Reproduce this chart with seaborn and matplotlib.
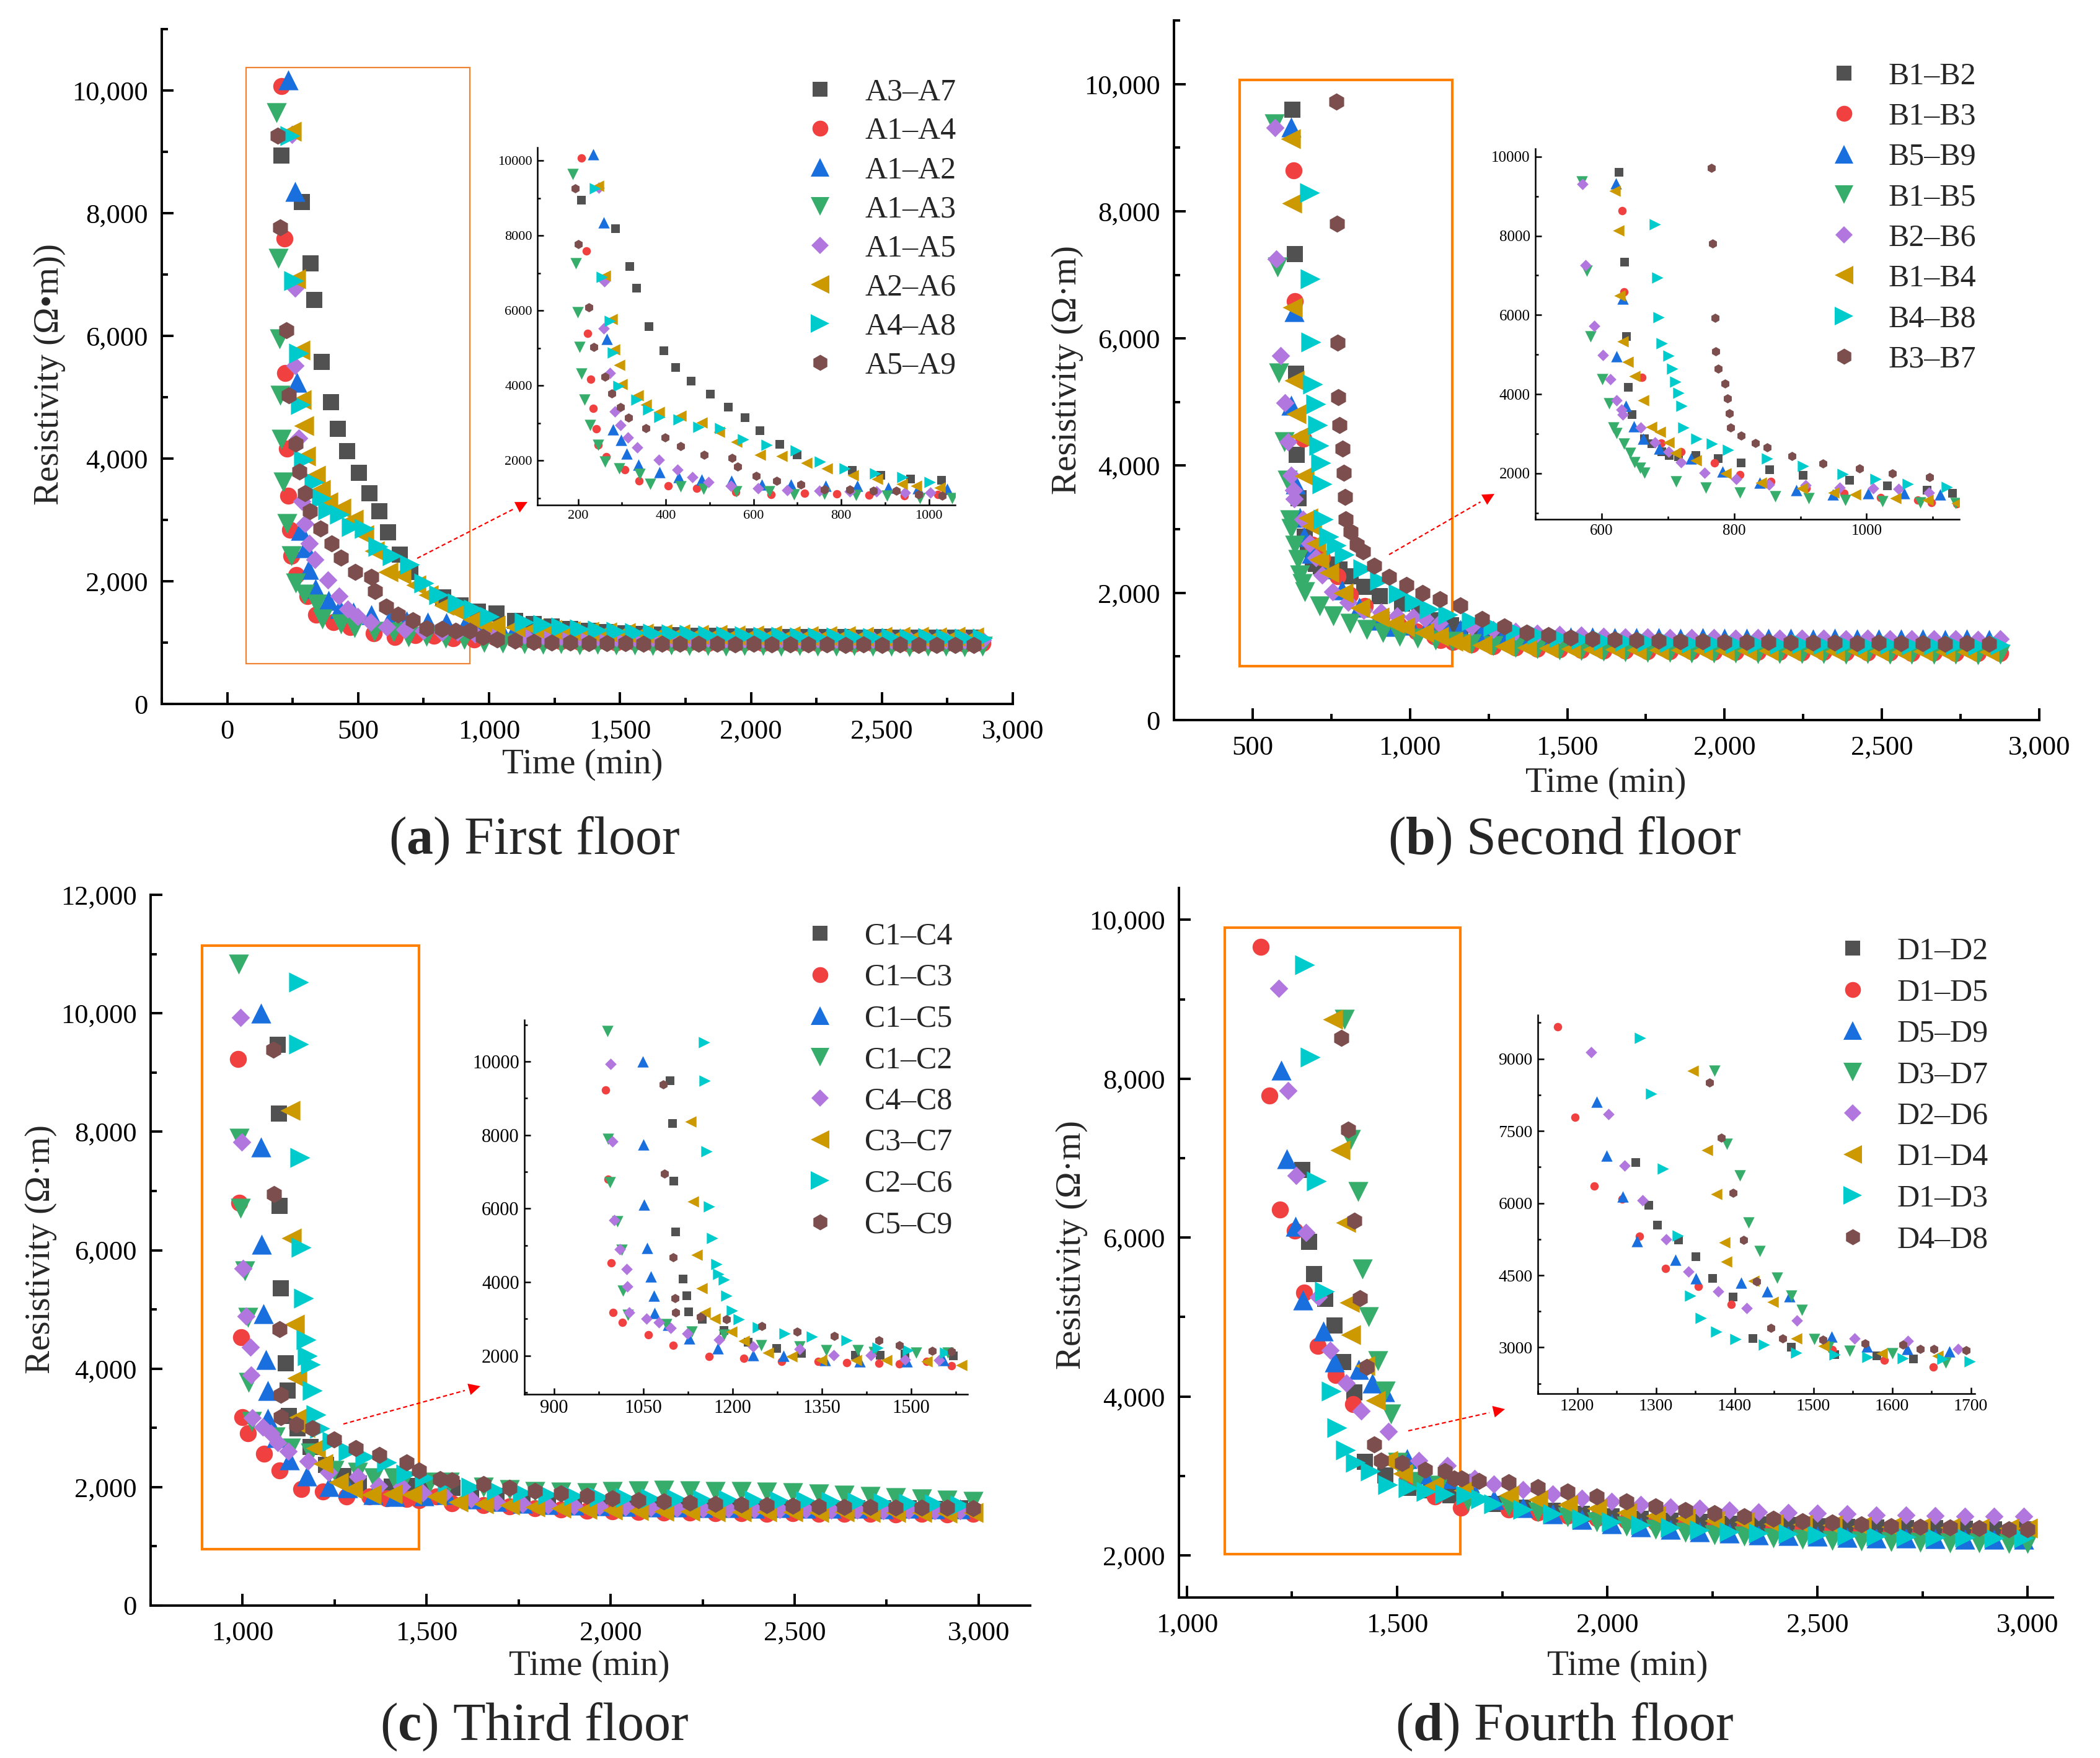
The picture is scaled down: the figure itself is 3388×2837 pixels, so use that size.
import numpy as np
import pandas as pd
import matplotlib
matplotlib.use("Agg")
import matplotlib.pyplot as plt
import seaborn as sns
from matplotlib.ticker import MultipleLocator, FuncFormatter
from matplotlib.lines import Line2D
from matplotlib.patches import Rectangle, FancyArrowPatch

# ---------------- DATA ----------------
# Panel (a) First floor
A_NAMES = ["A3–A7", "A1–A4", "A1–A2", "A1–A3", "A1–A5", "A2–A6", "A4–A8", "A5–A9"]
A_HEAD_T = [
    [207, 285, 317, 333, 361, 396, 423, 457, 502, 542, 581, 615, 660, 699, 825, 891, 958, 1029],
    [207, 218, 221, 229, 234, 241, 245, 264, 306, 339, 405, 470, 560, 640, 717, 790, 863, 944, 1021],
    [234, 258, 266, 280, 298, 310, 337, 386, 429, 481, 550, 619, 686, 765, 837, 907, 975, 1042],
    [188, 195, 199, 203, 207, 215, 227, 245, 261, 294, 341, 364, 433, 486, 561, 636, 692, 761, 834, 905, 980, 1053],
    [247, 259, 258, 272, 284, 296, 314, 335, 384, 426, 461, 497, 548, 610, 677, 750, 820, 880, 946, 1004],
    [245, 261, 277, 283, 293, 300, 336, 355, 384, 433, 481, 521, 561, 615, 664, 720, 767, 827, 882, 939, 971, 1024],
    [239, 254, 272, 280, 292, 333, 360, 385, 429, 475, 524, 577, 630, 696, 752, 809, 878, 940, 1002],
    [193, 201, 225, 236, 261, 276, 296, 315, 355, 398, 434, 488, 551, 564, 606, 653, 708, 761, 820, 873, 926, 977, 1031],
]
A_HEAD_R = [
    [8940, 8180, 7180, 6590, 5580, 4920, 4480, 4120, 3770, 3430, 3140, 2800, 2430, 2150, 1740, 1610, 1510, 1470],
    [10070, 7590, 5390, 4160, 3390, 2840, 2410, 2100, 1760, 1450, 1330, 1250, 1150, 1090, 1120, 1110, 1070, 1050, 1090],
    [10170, 8350, 5240, 2830, 2550, 2190, 1880, 1690, 1560, 1490, 1450, 1360, 1350, 1330, 1320, 1280, 1260, 1240],
    [9640, 7260, 5950, 5030, 4310, 3620, 2940, 2410, 1970, 1790, 1630, 1380, 1300, 1240, 1180, 1170, 1090, 1100, 1070, 1050, 1000, 990],
    [9280, 6780, 5520, 4330, 3300, 2940, 2620, 2350, 2020, 1760, 1550, 1420, 1330, 1250, 1210, 1190, 1170, 1170, 1140, 1140],
    [9330, 6930, 5770, 4960, 4540, 4040, 3730, 3490, 3290, 3190, 3010, 2760, 2500, 2150, 2110, 1940, 1780, 1610, 1510, 1370, 1320, 1280],
    [9260, 6900, 5720, 4880, 3980, 3620, 3350, 3160, 3090, 2890, 2860, 2570, 2410, 2270, 1970, 1780, 1650, 1550, 1420],
    [9260, 7770, 6090, 5030, 4240, 3790, 3430, 3140, 2860, 2620, 2380, 2150, 2070, 1840, 1590, 1450, 1360, 1230, 1220, 1190, 1190, 1090, 1050],
]
A_T1 = [1100, 1170, 1240, 1310, 1380, 1450, 1520, 1590, 1660, 1730, 1800, 1870, 1940, 2010, 2080, 2150, 2220, 2290, 2360, 2430, 2500, 2570, 2640, 2710, 2780, 2850]
A_T2 = [1135, 1205, 1275, 1345, 1415, 1485, 1555, 1625, 1695, 1765, 1835, 1905, 1975, 2045, 2115, 2185, 2255, 2325, 2395, 2465, 2535, 2605, 2675, 2745, 2815, 2885]
A_WHICH = [1, 2, 1, 2, 2, 1, 2, 1]
A_TAIL_R = [
    [1350, 1300, 1260, 1220, 1190, 1170, 1150, 1140, 1130, 1120, 1115, 1110, 1105, 1100, 1100, 1095, 1090, 1095, 1090, 1085, 1090, 1080, 1085, 1080, 1085, 1080],
    [1040, 1030, 1020, 1010, 1020, 1000, 1010, 1000, 995, 1005, 990, 1000, 995, 990, 1000, 985, 990, 995, 980, 990, 985, 980, 990, 985, 980, 985],
    [1220, 1200, 1180, 1170, 1150, 1140, 1130, 1120, 1120, 1110, 1100, 1100, 1095, 1090, 1090, 1085, 1080, 1085, 1080, 1075, 1080, 1070, 1075, 1070, 1065, 1070],
    [980, 970, 975, 960, 965, 955, 960, 950, 955, 945, 950, 940, 950, 945, 940, 945, 935, 940, 945, 935, 940, 930, 935, 940, 930, 935],
    [1120, 1110, 1100, 1095, 1090, 1085, 1080, 1080, 1075, 1070, 1070, 1065, 1060, 1065, 1060, 1055, 1060, 1050, 1055, 1050, 1045, 1050, 1045, 1040, 1045, 1040],
    [1250, 1230, 1210, 1190, 1180, 1170, 1160, 1150, 1145, 1140, 1135, 1130, 1125, 1120, 1120, 1115, 1110, 1115, 1110, 1105, 1100, 1105, 1100, 1095, 1100, 1095],
    [1330, 1290, 1250, 1220, 1200, 1180, 1165, 1150, 1140, 1130, 1120, 1115, 1110, 1105, 1100, 1095, 1090, 1090, 1085, 1080, 1085, 1075, 1080, 1070, 1075, 1070],
    [1030, 1010, 1000, 995, 990, 985, 985, 980, 980, 975, 980, 975, 970, 975, 970, 965, 970, 965, 960, 965, 960, 965, 955, 960, 955, 960],
]

# Panel (b) Second floor
B_NAMES = ["B1–B2", "B1–B3", "B5–B9", "B1–B5", "B2–B6", "B1–B4", "B4–B8", "B3–B7"]
B_HEAD_T = [
    [626, 635, 638, 640, 646, 665, 676, 691, 702, 716, 742, 776, 811, 854, 904, 974, 1031, 1091, 1130],
    [631, 634, 661, 690, 720, 770, 809, 856, 909, 966, 1021, 1077, 1098, 1136],
    [622, 632, 623, 637, 649, 663, 687, 735, 783, 839, 894, 949, 1002, 1057, 1111],
    [570, 578, 583, 601, 611, 618, 623, 634, 643, 650, 658, 665, 712, 757, 809, 862, 913, 968, 1024, 1081, 1134],
    [571, 576, 589, 602, 613, 623, 630, 632, 659, 681, 701, 720, 755, 803, 853, 908, 959, 1010, 1048, 1094],
    [620, 625, 627, 632, 639, 650, 663, 675, 688, 701, 711, 742, 787, 841, 902, 950, 983, 1044, 1092, 1136],
    [681, 684, 686, 691, 701, 707, 711, 716, 721, 724, 743, 767, 791, 850, 904, 964, 1014, 1062, 1121],
    [766, 768, 771, 772, 776, 786, 790, 793, 795, 811, 832, 850, 887, 934, 989, 1039, 1095],
]
B_HEAD_R = [
    [9600, 7330, 5450, 4170, 3490, 2880, 2750, 2550, 2460, 2420, 2450, 2370, 2260, 2090, 1950, 1830, 1690, 1570, 1490],
    [8640, 6590, 4420, 2760, 2550, 2260, 1970, 1790, 1620, 1490, 1390, 1320, 1260, 1230],
    [9320, 6420, 4950, 3710, 3190, 2880, 2620, 2380, 2050, 1770, 1570, 1470, 1490, 1490, 1460],
    [9370, 7120, 5460, 4370, 3770, 3150, 3010, 2750, 2520, 2280, 2140, 2020, 1790, 1640, 1520, 1420, 1370, 1320, 1290, 1260, 1240],
    [9310, 7250, 5730, 4990, 4370, 3850, 3610, 3480, 3160, 2780, 2550, 2280, 2020, 1850, 1720, 1700, 1640, 1620, 1600, 1520],
    [9140, 8130, 6490, 5340, 4810, 4460, 3840, 3180, 3050, 2780, 2520, 2320, 2000, 1760, 1620, 1520, 1460, 1370, 1320, 1240],
    [8290, 6940, 5940, 5280, 4970, 4640, 4320, 4040, 3710, 3160, 2880, 2750, 2600, 2380, 2190, 1990, 1850, 1740, 1660],
    [9720, 7800, 5930, 5080, 4640, 4270, 3890, 3510, 3160, 2960, 2760, 2650, 2430, 2250, 2120, 2000, 1900],
]
B_T1 = [1160, 1230, 1300, 1370, 1440, 1510, 1580, 1650, 1720, 1790, 1860, 1930, 2000, 2070, 2140, 2210, 2280, 2350, 2420, 2490, 2560, 2630, 2700, 2770, 2840]
B_T2 = [1195, 1265, 1335, 1405, 1475, 1545, 1615, 1685, 1755, 1825, 1895, 1965, 2035, 2105, 2175, 2245, 2315, 2385, 2455, 2525, 2595, 2665, 2735, 2805, 2875]
B_WHICH = [1, 2, 1, 2, 2, 1, 2, 1]
B_TAIL_R = [
    [1420, 1360, 1310, 1280, 1260, 1240, 1230, 1220, 1215, 1210, 1200, 1195, 1190, 1190, 1185, 1180, 1180, 1175, 1170, 1175, 1170, 1165, 1170, 1165, 1160],
    [1190, 1160, 1140, 1120, 1110, 1100, 1095, 1090, 1085, 1080, 1080, 1075, 1070, 1075, 1070, 1065, 1070, 1060, 1065, 1060, 1055, 1060, 1055, 1050, 1055],
    [1420, 1380, 1350, 1330, 1320, 1310, 1305, 1300, 1300, 1295, 1290, 1295, 1290, 1285, 1290, 1285, 1280, 1285, 1280, 1275, 1280, 1275, 1270, 1275, 1270],
    [1200, 1170, 1140, 1120, 1100, 1090, 1080, 1070, 1065, 1060, 1055, 1050, 1050, 1045, 1040, 1045, 1040, 1035, 1040, 1035, 1030, 1035, 1030, 1025, 1030],
    [1470, 1420, 1390, 1360, 1340, 1330, 1320, 1310, 1305, 1300, 1300, 1295, 1290, 1295, 1290, 1285, 1290, 1280, 1285, 1280, 1275, 1280, 1275, 1270, 1275],
    [1210, 1180, 1160, 1140, 1130, 1120, 1115, 1110, 1105, 1100, 1100, 1095, 1090, 1095, 1090, 1085, 1090, 1080, 1085, 1080, 1075, 1080, 1075, 1070, 1075],
    [1560, 1470, 1400, 1340, 1300, 1270, 1250, 1235, 1225, 1215, 1210, 1205, 1200, 1195, 1190, 1195, 1185, 1190, 1180, 1185, 1175, 1180, 1175, 1170, 1175],
    [1800, 1590, 1470, 1370, 1330, 1300, 1280, 1265, 1255, 1245, 1240, 1235, 1230, 1225, 1225, 1220, 1215, 1220, 1210, 1215, 1205, 1210, 1200, 1205, 1200],
]

# Panel (c) Third floor
C_NAMES = ["C1–C4", "C1–C3", "C1–C5", "C1–C2", "C4–C8", "C3–C7", "C2–C6", "C5–C9"]
C_HEAD_T = [
    [1095, 1099, 1101, 1104, 1117, 1123, 1126, 1149, 1185, 1226, 1274, 1316, 1406, 1448, 1490, 1571],
    [987, 991, 996, 999, 1015, 1058, 1100, 1160, 1219, 1282, 1344, 1392, 1446, 1480, 1526, 1568],
    [1049, 1050, 1051, 1056, 1063, 1068, 1069, 1092, 1127, 1175, 1235, 1286, 1355, 1414, 1493, 1554],
    [990, 991, 994, 1006, 1014, 1016, 1024, 1089, 1131, 1185, 1248, 1313, 1357, 1411, 1438, 1509, 1562],
    [995, 998, 1001, 1010, 1022, 1023, 1026, 1055, 1076, 1096, 1124, 1177, 1234, 1313, 1370, 1432, 1490, 1547],
    [1129, 1133, 1140, 1148, 1153, 1170, 1198, 1219, 1260, 1299, 1349, 1407, 1459, 1526, 1585],
    [1152, 1153, 1156, 1160, 1166, 1173, 1176, 1185, 1190, 1199, 1210, 1243, 1288, 1333, 1392, 1444, 1495, 1557],
    [1083, 1086, 1100, 1103, 1104, 1146, 1190, 1249, 1308, 1371, 1446, 1480, 1536, 1568],
]
C_HEAD_R = [
    [9470, 8310, 6750, 5360, 4090, 3630, 3200, 2990, 2680, 2370, 2190, 2060, 2010, 2020, 2040, 1990],
    [9230, 6800, 4530, 3180, 2910, 2560, 2280, 1970, 1920, 1840, 1840, 1810, 1800, 1780, 1840, 1730],
    [10000, 7740, 6100, 4930, 4150, 3630, 3160, 2840, 2460, 2190, 2010, 1990, 1870, 1840, 1850, 1870],
    [10830, 7890, 6710, 5650, 4870, 3770, 3110, 2850, 2660, 2570, 2280, 2250, 2150, 2150, 2100, 2080, 2080],
    [9930, 7830, 5690, 4890, 4360, 3890, 3170, 3010, 2910, 2750, 2600, 2440, 2250, 2180, 2020, 2010, 1900, 1870],
    [8360, 6200, 4750, 3840, 3180, 3000, 2660, 2400, 2080, 1970, 1870, 1880, 1870, 1840, 1750],
    [10520, 9480, 7560, 6050, 5190, 4490, 4220, 4070, 3630, 3220, 2990, 2770, 2600, 2510, 2420, 2220, 2150, 2080],
    [9380, 6950, 4670, 3560, 3180, 3060, 2990, 2800, 2660, 2540, 2420, 2280, 2130, 2110],
]
C_T1 = [1620, 1690, 1760, 1830, 1900, 1970, 2040, 2110, 2180, 2250, 2320, 2390, 2460, 2530, 2600, 2670, 2740, 2810, 2880, 2950]
C_T2 = [1655, 1725, 1795, 1865, 1935, 2005, 2075, 2145, 2215, 2285, 2355, 2425, 2495, 2565, 2635, 2705, 2775, 2845, 2915, 2985]
C_WHICH = [1, 2, 1, 2, 1, 2, 1, 2]
C_TAIL_R = [
    [1900, 1850, 1800, 1760, 1730, 1700, 1690, 1680, 1670, 1665, 1660, 1655, 1650, 1650, 1645, 1640, 1645, 1640, 1635, 1640],
    [1700, 1670, 1640, 1620, 1600, 1590, 1580, 1570, 1565, 1560, 1555, 1550, 1555, 1550, 1545, 1550, 1540, 1545, 1540, 1545],
    [1800, 1760, 1730, 1710, 1690, 1680, 1670, 1665, 1660, 1655, 1650, 1645, 1650, 1640, 1645, 1640, 1635, 1640, 1630, 1635],
    [2000, 1960, 1930, 1910, 1900, 1920, 1940, 1950, 1940, 1930, 1920, 1910, 1900, 1880, 1860, 1840, 1820, 1800, 1780, 1760],
    [1800, 1750, 1720, 1700, 1680, 1670, 1660, 1650, 1640, 1635, 1630, 1625, 1620, 1620, 1615, 1610, 1605, 1610, 1600, 1605],
    [1720, 1690, 1660, 1640, 1620, 1610, 1600, 1595, 1590, 1585, 1580, 1580, 1575, 1570, 1575, 1570, 1565, 1570, 1560, 1565],
    [2000, 1950, 1900, 1870, 1850, 1830, 1820, 1810, 1800, 1790, 1785, 1780, 1770, 1765, 1760, 1750, 1740, 1730, 1720, 1700],
    [2050, 1990, 1940, 1890, 1850, 1810, 1780, 1760, 1740, 1720, 1705, 1690, 1680, 1670, 1665, 1660, 1655, 1650, 1650, 1645],
]

# Panel (d) Fourth floor
D_NAMES = ["D1–D2", "D1–D5", "D5–D9", "D3–D7", "D2–D6", "D1–D4", "D1–D3", "D4–D8"]
D_HEAD_T = [
    [1274, 1291, 1302, 1329, 1351, 1372, 1398, 1423, 1472, 1527, 1581, 1627],
    [1175, 1197, 1222, 1257, 1279, 1312, 1354, 1396, 1524, 1590, 1652],
    [1225, 1237, 1258, 1276, 1325, 1351, 1408, 1441, 1470, 1523, 1568, 1619, 1673],
    [1374, 1390, 1407, 1418, 1432, 1454, 1472, 1485, 1501, 1519, 1546, 1600, 1668],
    [1218, 1240, 1260, 1283, 1313, 1341, 1379, 1415, 1479, 1552, 1620, 1684],
    [1347, 1365, 1377, 1387, 1389, 1424, 1448, 1478, 1513, 1587, 1658],
    [1280, 1294, 1309, 1328, 1344, 1357, 1377, 1401, 1437, 1478, 1527, 1569, 1614, 1664, 1699],
    [1368, 1383, 1398, 1411, 1428, 1446, 1461, 1512, 1566, 1614, 1636, 1653, 1694],
]
D_HEAD_R = [
    [6850, 5950, 5540, 5230, 4890, 4430, 4050, 3180, 3010, 2850, 2820, 2760],
    [9660, 7790, 6350, 6090, 5310, 4640, 4270, 3900, 2950, 2740, 2600],
    [8110, 6990, 6140, 5210, 4820, 4430, 4340, 4170, 4060, 3220, 3020, 2970, 2910],
    [8750, 7230, 6580, 5600, 5000, 4450, 4070, 3780, 3170, 3010, 2930, 2880, 2690],
    [9140, 7850, 6780, 6060, 5250, 4580, 4170, 3820, 3560, 3190, 3130, 2970],
    [8750, 7100, 6190, 5180, 4780, 4390, 3950, 3190, 3030, 2880, 2820],
    [9430, 8270, 6710, 5320, 4070, 3610, 3330, 3170, 3060, 2890, 2850, 2800, 2770, 2760, 2710],
    [8510, 7360, 6210, 5240, 4370, 3400, 3190, 3160, 3080, 3060, 2970, 2970, 2940],
]
D_T1 = [1730, 1800, 1870, 1940, 2010, 2080, 2150, 2220, 2290, 2360, 2430, 2500, 2570, 2640, 2710, 2780, 2850, 2920, 2990]
D_T2 = [1765, 1835, 1905, 1975, 2045, 2115, 2185, 2255, 2325, 2395, 2465, 2535, 2605, 2675, 2745, 2815, 2885, 2955, 3000]
D_WHICH = [1, 2, 1, 2, 1, 2, 1, 2]
D_TAIL_R = [
    [2650, 2600, 2560, 2520, 2490, 2460, 2440, 2420, 2400, 2390, 2380, 2370, 2360, 2350, 2345, 2340, 2335, 2330, 2325],
    [2580, 2540, 2500, 2470, 2440, 2410, 2390, 2370, 2350, 2340, 2330, 2320, 2310, 2300, 2300, 2295, 2290, 2290, 2285],
    [2700, 2600, 2520, 2450, 2400, 2360, 2330, 2300, 2280, 2260, 2250, 2240, 2230, 2220, 2215, 2210, 2205, 2200, 2200],
    [2620, 2550, 2480, 2420, 2370, 2330, 2290, 2260, 2240, 2220, 2200, 2190, 2180, 2170, 2165, 2160, 2155, 2150, 2150],
    [2900, 2830, 2770, 2720, 2680, 2640, 2610, 2590, 2570, 2550, 2540, 2530, 2520, 2510, 2505, 2500, 2495, 2490, 2490],
    [2760, 2700, 2640, 2590, 2540, 2500, 2470, 2440, 2420, 2400, 2390, 2380, 2370, 2360, 2355, 2350, 2345, 2340, 2340],
    [2650, 2580, 2520, 2460, 2420, 2380, 2350, 2320, 2300, 2280, 2270, 2260, 2250, 2240, 2235, 2230, 2225, 2220, 2220],
    [2920, 2860, 2800, 2740, 2680, 2620, 2570, 2530, 2490, 2460, 2430, 2410, 2390, 2370, 2360, 2350, 2340, 2330, 2330],
]

CAPTION_LETTERS = ["a", "b", "c", "d"]
CAPTION_TEXTS = ["First floor", "Second floor", "Third floor", "Fourth floor"]

# ---------------- STYLE ----------------
COLORS = ["#515151", "#F14040", "#1A6FDF", "#37AD6B", "#B177DE", "#CC9900", "#00CBCC", "#7D4E4E"]
MARKERS = ["s", "o", "^", "v", "D", "<", ">", "h"]
MAIN_S = [340, 390, 540, 540, 230, 540, 540, 400]
INSET_S = [88, 95, 175, 175, 90, 175, 175, 115]
LEG_S = [300, 340, 470, 470, 200, 470, 470, 350]

sns.set_theme(style="ticks")
plt.rcParams['font.family'] = ['Liberation Serif', 'DejaVu Serif']
plt.rcParams['mathtext.fontset'] = 'custom'
plt.rcParams['mathtext.rm'] = 'Liberation Serif'
plt.rcParams['mathtext.bf'] = 'Liberation Serif:bold'
plt.rcParams['axes.unicode_minus'] = False

W, H = 3388, 2837
fig = plt.figure(figsize=(W / 100, H / 100), dpi=100)
fig.patch.set_facecolor("white")


def frame(l, r, t, b):
    return [l / W, 1 - b / H, (r - l) / W, (b - t) / H]


def fxy(x, y):
    return (x / W, 1 - y / H)


comma_fmt = FuncFormatter(lambda v, p: f"{int(round(v)):,}")
plain_fmt = FuncFormatter(lambda v, p: f"{int(round(v))}")


def style_axes(ax, xlim, ylim, xmaj, ymaj, fmt, fs, lw, L, padx, pady):
    ax.set_xlim(*xlim)
    ax.set_ylim(*ylim)
    ax.xaxis.set_major_locator(MultipleLocator(xmaj))
    ax.xaxis.set_minor_locator(MultipleLocator(xmaj / 2))
    ax.yaxis.set_major_locator(MultipleLocator(ymaj))
    ax.yaxis.set_minor_locator(MultipleLocator(ymaj / 2))
    ax.xaxis.set_major_formatter(fmt)
    ax.yaxis.set_major_formatter(fmt)
    for s in ["top", "right"]:
        ax.spines[s].set_visible(False)
    for s in ["left", "bottom"]:
        ax.spines[s].set_linewidth(lw)
        ax.spines[s].set_color("black")
    ax.tick_params(which="both", direction="in", width=lw, color="black",
                   labelcolor="black", top=False, right=False)
    ax.tick_params(which="major", length=L)
    ax.tick_params(which="minor", length=L * 0.5)
    ax.tick_params(axis="x", which="major", pad=padx, labelsize=fs)
    ax.tick_params(axis="y", which="major", pad=pady, labelsize=fs)
    ax.set_xlabel("")
    ax.set_ylabel("")
    ax.grid(False)


def draw_series(ax, names, head_t, head_r, t1, t2, which, tail_r, sizes):
    for i in range(len(names)):
        tt = t1 if which[i] == 1 else t2
        df = pd.DataFrame({"t": head_t[i] + tt, "r": head_r[i] + tail_r[i]})
        sns.scatterplot(data=df, x="t", y="r", ax=ax, marker=MARKERS[i], color=COLORS[i],
                        s=sizes[i], linewidth=0, legend=False, zorder=3)


PANELS = [
    dict(names=A_NAMES, ht=A_HEAD_T, hr=A_HEAD_R, t1=A_T1, t2=A_T2, wh=A_WHICH, tr=A_TAIL_R,
         main=(261, 1634, 47, 1136), xlim=(-250, 3000), ylim=(0, 11000), xmaj=500, ymaj=2000,
         inset=(867, 1541, 238, 815), ixlim=(107, 1060), iylim=(810, 10350), ixmaj=200, iymaj=2000, ifs=16,
         box=(72, 655, 926, 10370), box_lw=1.6, box_c="#F08233",
         arrow=((673, 901), (851, 810)),
         leg=(1323, 154), legsp=0.33,
         xlab=(940, 1234), ylab=(80, 604), ytext="Resistivity (Ω•m))", cap=(862, 1357)),
    dict(names=B_NAMES, ht=B_HEAD_T, hr=B_HEAD_R, t1=B_T1, t2=B_T2, wh=B_WHICH, tr=B_TAIL_R,
         main=(1894, 3290, 33, 1162), xlim=(250, 3000), ylim=(0, 11000), xmaj=500, ymaj=2000,
         inset=(2477, 3161, 240, 838), ixlim=(500, 1140), iylim=(840, 10200), ixmaj=200, iymaj=2000, ifs=18,
         box=(459, 847, 1135, 10063), box_lw=3.0, box_c="#FF8000",
         arrow=((2241, 895), (2411, 797)),
         leg=(2975, 128), legsp=0.375,
         xlab=(2591, 1264), ylab=(1722, 597), ytext="Resistivity (Ω·m)", cap=(2524, 1357)),
    dict(names=C_NAMES, ht=C_HEAD_T, hr=C_HEAD_R, t1=C_T1, t2=C_T2, wh=C_WHICH, tr=C_TAIL_R,
         main=(243, 1662, 1444, 2591), xlim=(750, 3140), ylim=(0, 12000), xmaj=500, ymaj=2000,
         inset=(846, 1561, 1646, 2250), ixlim=(850, 1595), iylim=(950, 11130), ixmaj=150, iymaj=2000, ifs=22,
         box=(890, 957, 1480, 11139), box_lw=3.0, box_c="#FF8000",
         arrow=((554, 2298), (775, 2237)),
         leg=(1323, 1516), legsp=0.40,
         xlab=(951, 2689), ylab=(66, 2016), ytext="Resistivity (Ω·m)", cap=(862, 2787)),
    dict(names=D_NAMES, ht=D_HEAD_T, hr=D_HEAD_R, t1=D_T1, t2=D_T2, wh=D_WHICH, tr=D_TAIL_R,
         main=(1902, 3312, 1433, 2578), xlim=(981, 3060), ylim=(1470, 10400), xmaj=500, ymaj=2000,
         inset=(2481, 3186, 1638, 2249), ixlim=(1150, 1705), iylim=(2040, 9910), ixmaj=100, iymaj=1500, ifs=20,
         box=(1090, 2017, 1651, 9898), box_lw=3.0, box_c="#FF8000",
         arrow=((2272, 2309), (2428, 2274)),
         leg=(2989, 1540), legsp=0.40,
         xlab=(2626, 2689), ylab=(1729, 2009), ytext="Resistivity (Ω·m)", cap=(2524, 2787)),
]

LEG_FS = 36
for k, P in enumerate(PANELS):
    ax = fig.add_axes(frame(*P["main"]))
    ax.set_facecolor("white")
    draw_series(ax, P["names"], P["ht"], P["hr"], P["t1"], P["t2"], P["wh"], P["tr"], MAIN_S)
    style_axes(ax, P["xlim"], P["ylim"], P["xmaj"], P["ymaj"], comma_fmt, 32, 2.8, 14, 18, 16)

    x0, y0, x1, y1 = P["box"]
    ax.add_patch(Rectangle((x0, y0), x1 - x0, y1 - y0, fill=False, edgecolor=P["box_c"],
                           linewidth=P["box_lw"], zorder=1))

    handles = [Line2D([], [], ls="None", marker=MARKERS[i], color=COLORS[i], markeredgewidth=0,
                      markersize=np.sqrt(LEG_S[i])) for i in range(8)]
    fs_px = LEG_FS * 100 / 72
    lx, ly = P["leg"]
    leg = ax.legend(handles, P["names"], loc="upper left",
                    bbox_to_anchor=fxy(lx - fs_px * 0.5, ly - fs_px * 0.56),
                    bbox_transform=fig.transFigure, frameon=False, fontsize=LEG_FS,
                    handlelength=1.0, handletextpad=0.94, labelspacing=P["legsp"],
                    borderpad=0, borderaxespad=0)
    leg.set_zorder(10)

    iax = fig.add_axes(frame(*P["inset"]))
    iax.patch.set_visible(False)
    draw_series(iax, P["names"], P["ht"], P["hr"], P["t1"], P["t2"], P["wh"], P["tr"], INSET_S)
    style_axes(iax, P["ixlim"], P["iylim"], P["ixmaj"], P["iymaj"], plain_fmt, P["ifs"], 1.8, 7, 6, 6)

    (sx, sy), (ex, ey) = P["arrow"]
    dx, dy = ex - sx, ey - sy
    n = np.hypot(dx, dy)
    ux, uy = dx / n, dy / n
    hx, hy = ex - ux * 26, ey - uy * 26
    fig.add_artist(Line2D([sx / W, hx / W], [1 - sy / H, 1 - hy / H], transform=fig.transFigure,
                          color="red", lw=1.6, linestyle=(0, (3, 2))))
    fig.add_artist(FancyArrowPatch(fxy(hx - ux * 4, hy - uy * 4), fxy(ex, ey), transform=fig.transFigure,
                                   arrowstyle="-|>", mutation_scale=34, color="red", lw=0,
                                   shrinkA=0, shrinkB=0))

    fig.text(*fxy(*P["xlab"]), "Time (min)", ha="center", va="center", fontsize=41)
    fig.text(*fxy(*P["ylab"]), P["ytext"], ha="center", va="center", rotation=90, fontsize=41)
    fig.text(*fxy(*P["cap"]), r"($\mathbf{" + CAPTION_LETTERS[k] + r"}$) " + CAPTION_TEXTS[k],
             ha="center", va="center", fontsize=62)

fig.savefig("out.png", dpi=100, facecolor="white")
